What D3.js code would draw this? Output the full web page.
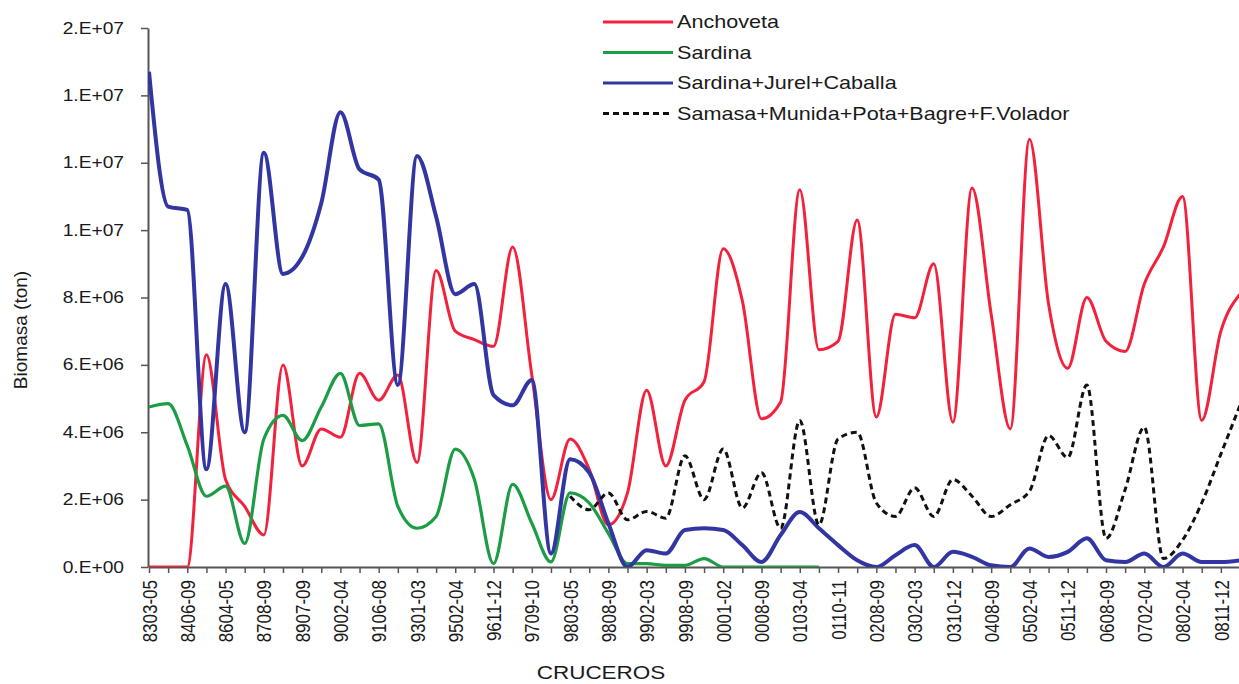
<!DOCTYPE html>
<html>
<head>
<meta charset="utf-8">
<script src="https://cdn.jsdelivr.net/npm/d3@7"></script>
<style>
  body { margin: 0; background: #fff; }
  svg { display: block; font-family: "Liberation Sans", Arial, sans-serif; }
</style>
</head>
<body>
<svg id="chart" width="1239" height="684"></svg>
<script>
// cruceros (solo los pares llevan etiqueta en el eje)
const cruceros = [
    "8303-05", "8311-12", "8406-09", "8508-09", "8604-05", "8702-03", "8708-09", "8811-12", "8907-09", "8909-10",
    "9002-04", "9009-10", "9106-08", "9202-04", "9301-03", "9402-04", "9502-04", "9608-09", "9611-12", "9702-04",
    "9709-10", "9711-12", "9803-05", "9805-06", "9808-09", "9811-12", "9902-03", "9905-06", "9908-09", "9911-12",
    "0001-02", "0005-06", "0008-09", "0101-02", "0103-04", "0105-06", "0110-11", "0202-03", "0208-09", "0210-11",
    "0302-03", "0305-06", "0310-12", "0402-04", "0408-09", "0410-11", "0502-04", "0505-06", "0511-12", "0602-04",
    "0608-09", "0611-12", "0702-04", "0711-12", "0802-04", "0806-07", "0811-12", "0902-04"
];

// biomasa en millones de toneladas
const anchoveta = [
    0, 0, 0, 6.3, 2.6, 1.8, 0.95, 6.0, 3.0, 4.1,
    3.85, 5.75, 4.95, 5.7, 3.1, 8.8, 7.0, 6.75, 6.55, 9.5,
    5.7, 2.0, 3.8, 2.9, 1.25, 2.2, 5.25, 3.0, 4.95, 5.5,
    9.45, 7.9, 4.4, 4.9, 11.2, 6.45, 6.7, 10.3, 4.45, 7.5,
    7.4, 9.0, 4.3, 11.25, 7.5, 4.1, 12.7, 7.8, 5.9, 8.0,
    6.7, 6.4, 8.4, 9.5, 11.0, 4.35, 7.0, 8.1
];
const sardina = [
    4.75, 4.85, 3.6, 2.1, 2.4, 0.7, 3.8, 4.5, 3.75, 4.75,
    5.75, 4.2, 4.25, 1.8, 1.15, 1.5, 3.5, 2.6, 0.1, 2.45,
    1.3, 0.15, 2.2, 1.9, 1.0, 0.1, 0.1, 0.05, 0.05, 0.25,
    0, 0, 0, 0, 0, 0, null, null, null, null,
    null, null, null, null, null, null, null, null, null, null,
    null, null, null, null, null, null, null, null
];
const sardinaJurelCaballa = [
    14.7, 10.7, 10.6, 2.9, 8.4, 4.0, 12.3, 8.7, 9.2, 10.8,
    13.5, 11.8, 11.5, 5.4, 12.2, 10.4, 8.1, 8.4, 5.1, 4.8,
    5.55, 0.4, 3.2, 2.8, 1.3, 0, 0.5, 0.4, 1.1, 1.15,
    1.1, 0.65, 0.15, 0.95, 1.63, 1.15, 0.65, 0.2, 0, 0.35,
    0.65, 0, 0.45, 0.3, 0.05, 0, 0.55, 0.3, 0.45, 0.85,
    0.2, 0.15, 0.4, 0, 0.4, 0.15, 0.15, 0.2
];
const otros = [
    null, null, null, null, null, null, null, null, null, null,
    null, null, null, null, null, null, null, null, null, null,
    null, null, 2.1, 1.7, 2.2, 1.4, 1.65, 1.45, 3.3, 2.0,
    3.5, 1.75, 2.8, 1.15, 4.35, 1.25, 3.8, 4.0, 1.9, 1.5,
    2.35, 1.5, 2.6, 2.1, 1.5, 1.85, 2.25, 3.9, 3.25, 5.4,
    0.85, 2.3, 4.15, 0.25, 0.8, 1.9, 3.35, 4.8
];

const yTicks = [0, 2e6, 4e6, 6e6, 8e6, 10e6, 12e6, 14e6, 16e6];

const series = [
    { name: "Anchoveta", values: anchoveta, color: "#f2223c", width: 3, dash: null },
    { name: "Sardina", values: sardina, color: "#1c9c45", width: 3.2, dash: null },
    { name: "Sardina+Jurel+Caballa", values: sardinaJurelCaballa, color: "#3236a2", width: 4, dash: null },
    { name: "Samasa+Munida+Pota+Bagre+F.Volador", values: otros, color: "#111", width: 3, dash: "6,4" }
];

const width = 1239;
const height = 684;
const margin = { top: 28, right: 0, bottom: 117, left: 148 };
const stretch = 1.2; // la imagen original esta estirada a lo ancho

const svg = d3.select("#chart");

const x = d3.scalePoint().domain(cruceros).range([149, 1240]);
const y = d3.scaleLinear().domain([0, 16e6]).range([height - margin.bottom, margin.top]);

// formato tipo Excel "0.E+00"
function sci(v) {
    if (v === 0) return "0.E+00";
    let e = Math.floor(Math.log10(v));
    let m = Math.round(v / Math.pow(10, e));
    if (m === 10) { m = 1; e += 1; }
    return m + ".E+" + String(e).padStart(2, "0");
}

svg.append("clipPath").attr("id", "plotClip")
    .append("rect").attr("x", margin.left).attr("y", 0)
    .attr("width", width - margin.left).attr("height", height - margin.bottom);

// eje X
const xAxis = svg.append("g")
    .attr("transform", `translate(0,${height - margin.bottom})`)
    .call(d3.axisBottom(x).tickSize(6).tickSizeOuter(0)
        .tickFormat((d, i) => i % 2 === 0 ? d : ""));
xAxis.select(".domain").attr("stroke", "#555").attr("stroke-width", 2);
xAxis.selectAll(".tick line").attr("stroke", "#555").attr("stroke-width", 1.5);
xAxis.selectAll(".tick text")
    .attr("text-anchor", "end")
    .attr("x", -13).attr("y", 0).attr("dy", "0.35em")
    .attr("transform", `scale(${stretch},1) rotate(-90)`)
    .style("font-size", "17px").style("fill", "#1a1a1a");

// eje Y
const yAxis = svg.append("g")
    .attr("transform", `translate(${margin.left},0)`)
    .call(d3.axisLeft(y).tickValues(yTicks).tickFormat(sci).tickSize(7).tickSizeOuter(0));
yAxis.select(".domain").attr("stroke", "#555").attr("stroke-width", 2);
yAxis.selectAll(".tick line").attr("stroke", "#555").attr("stroke-width", 1.5);
yAxis.selectAll(".tick text")
    .attr("x", -20)
    .attr("transform", `scale(${stretch},1)`)
    .style("font-size", "16px").style("fill", "#1a1a1a");

// titulos de ejes
svg.append("text")
    .attr("transform", "translate(20,330) rotate(-90)")
    .attr("text-anchor", "middle").attr("dy", "0.35em")
    .style("font-size", "19px").style("fill", "#1a1a1a")
    .text("Biomasa (ton)");

svg.append("text")
    .attr("transform", "translate(601,679) scale(1.25,1)")
    .attr("text-anchor", "middle")
    .style("font-size", "18px").style("fill", "#1a1a1a")
    .text("CRUCEROS");

// lineas suavizadas
const line = d3.line()
    .defined(d => d.v != null)
    .x(d => x(d.c))
    .y(d => y(d.v * 1e6))
    .curve(d3.curveMonotoneX);

svg.append("g").attr("clip-path", "url(#plotClip)")
    .selectAll("path").data(series).enter().append("path")
    .attr("fill", "none")
    .attr("stroke", d => d.color)
    .attr("stroke-width", d => d.width)
    .attr("stroke-dasharray", d => d.dash)
    .attr("stroke-linejoin", "round")
    .attr("d", d => line(d.values.map((v, i) => ({ c: cruceros[i], v: v }))));

// leyenda
const legend = svg.append("g").selectAll("g").data(series).enter().append("g")
    .attr("transform", (d, i) => `translate(603,${22 + i * 30.5})`);
legend.append("line")
    .attr("x1", 0).attr("x2", 70).attr("y1", 0).attr("y2", 0)
    .attr("stroke", d => d.color).attr("stroke-width", 3)
    .attr("stroke-dasharray", d => d.dash);
legend.append("text")
    .attr("transform", `translate(74,0) scale(${stretch},1)`)
    .attr("dy", "0.35em")
    .style("font-size", "18px").style("fill", "#1a1a1a")
    .text(d => d.name);
</script>
</body>
</html>
